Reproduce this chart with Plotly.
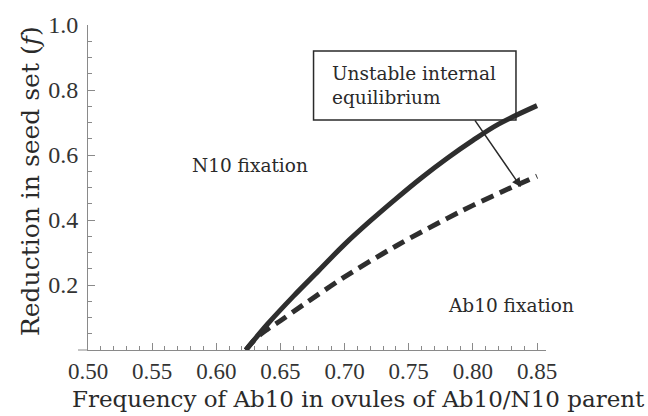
import plotly.graph_objects as go

# Data
solid_x = [0.623, 0.64, 0.66, 0.68, 0.70, 0.72, 0.74, 0.76, 0.78, 0.80, 0.82, 0.85]
solid_y = [0.0, 0.08, 0.165, 0.245, 0.325, 0.397, 0.465, 0.53, 0.59, 0.645, 0.695, 0.752]
dash_x = [0.623, 0.63, 0.635, 0.64, 0.65, 0.67, 0.70, 0.73, 0.75, 0.78, 0.80, 0.83, 0.85]
dash_y = [0.0, 0.032, 0.05, 0.064, 0.09, 0.145, 0.225, 0.297, 0.342, 0.405, 0.445, 0.50, 0.535]

x_ticks = [0.50, 0.55, 0.60, 0.65, 0.70, 0.75, 0.80, 0.85]
y_ticks = [0.2, 0.4, 0.6, 0.8, 1.0]

FONT = "DejaVu Serif"
TICKFONT = "Liberation Serif"
CURVE = "#2e2e2e"
AXIS = "#8a8a8a"
TXT = "#2a2a2a"

fig = go.Figure()
fig.add_trace(go.Scatter(x=solid_x, y=solid_y, mode="lines", line=dict(color=CURVE, width=5, shape="spline", smoothing=1.0),
                         showlegend=False, hoverinfo="skip"))
fig.add_trace(go.Scatter(x=dash_x, y=dash_y, mode="lines",
                         line=dict(color=CURVE, width=5, shape="spline", dash="13px,7px"),
                         showlegend=False, hoverinfo="skip"))

fig.update_layout(
    width=648, height=416,
    margin=dict(l=88, r=102, t=25, b=66),
    paper_bgcolor="white", plot_bgcolor="white",
    font=dict(family=FONT, color=TXT),
    xaxis=dict(range=[0.5, 0.857], tickvals=x_ticks, ticktext=[f"{v:.2f}" for v in x_ticks],
               showgrid=False, zeroline=False, showline=True, linecolor=AXIS, linewidth=1,
               ticks="inside", ticklen=7, tickcolor=AXIS, tickwidth=1,
               minor=dict(dtick=0.01, tick0=0.5, ticks="inside", ticklen=4, tickcolor=AXIS, tickwidth=1),
               tickfont=dict(family=TICKFONT, size=23, color="#333333"), ticklabelstandoff=0),
    yaxis=dict(range=[0, 1.0], tickvals=y_ticks, ticktext=[f"{v:.1f}" for v in y_ticks],
               showgrid=False, zeroline=False, showline=True, linecolor=AXIS, linewidth=1,
               ticks="inside", ticklen=7, tickcolor=AXIS, tickwidth=1,
               minor=dict(dtick=0.05, tick0=0, ticks="inside", ticklen=4, tickcolor=AXIS, tickwidth=1),
               tickfont=dict(family=TICKFONT, size=24, color="#333333"), ticklabelstandoff=4),
)

# axis titles
fig.add_annotation(text="Frequency of Ab10 in ovules of Ab10/N10 parent", xref="paper", yref="paper",
                   x=(358 - 88) / 458, y=-(399 - 350) / 325, xanchor="center", yanchor="middle",
                   showarrow=False, font=dict(size=23, color=TXT))
fig.add_annotation(text="Reduction in seed set (<i>f</i>)", xref="paper", yref="paper",
                   x=-(88 - 30) / 458, y=(350 - 181) / 325, xanchor="center", yanchor="middle",
                   textangle=-90, showarrow=False, font=dict(size=25, color=TXT))

# extend x-axis line a little left of the y axis
fig.add_shape(type="line", xref="paper", yref="paper", x0=-10/458, x1=0, y0=0, y1=0,
              line=dict(color=AXIS, width=1))

# Annotation box
fig.add_shape(type="rect", xref="x", yref="y", x0=0.6758, x1=0.8336, y0=0.7077, y1=0.9200,
              line=dict(color=TXT, width=1.5), fillcolor="rgba(0,0,0,0)")
fig.add_annotation(x=0.6885, y=0.814, xref="x", yref="y", xanchor="left", yanchor="middle",
                   align="left", showarrow=False,
                   text="Unstable internal<br>equilibrium", font=dict(size=18.5, color=TXT))
fig.add_annotation(x=0.8375, y=0.5015, ax=0.8008, ay=0.711, xref="x", yref="y", axref="x", ayref="y",
                   showarrow=True, arrowhead=2, arrowsize=1.2, arrowwidth=1.5, arrowcolor=TXT, text="")

fig.add_annotation(x=0.5+(250-88)/1280, y=(350-165)/325, xref="x", yref="y", showarrow=False,
                   text="N10 fixation", font=dict(size=18.5, color=TXT))
fig.add_annotation(x=0.5+(510-88)/1280, y=(350-305)/325, xref="x", yref="y", showarrow=False,
                   text="Ab10 fixation", font=dict(size=18.5, color=TXT))

fig.write_html("out.html")
